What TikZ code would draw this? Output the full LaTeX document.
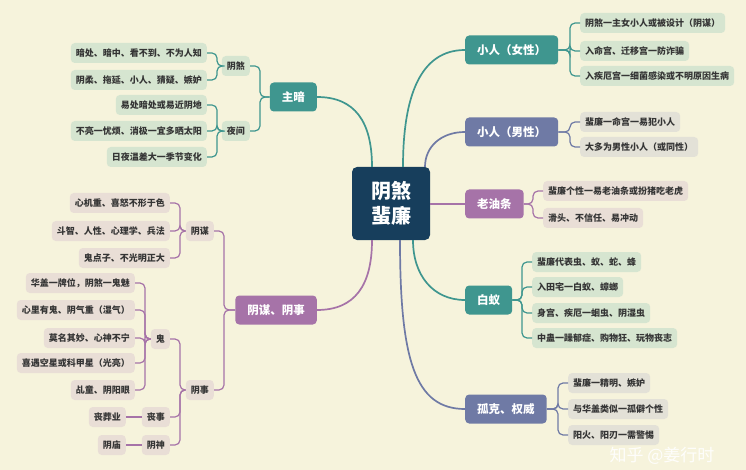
\documentclass[tikz,border=0pt]{standalone}
\usepackage{fontspec}
\setmainfont{Noto Sans CJK SC}
\usepackage{xcolor}
\usepackage{tikz}
\usetikzlibrary{positioning}
\usetikzlibrary{calc}
\definecolor{bgcol}{HTML}{F6F3DC}
\definecolor{navyc}{HTML}{173E5C}
\definecolor{tealc}{HTML}{3F968F}
\definecolor{slatec}{HTML}{6F7AA5}
\definecolor{plumc}{HTML}{A673A8}
\definecolor{leafg}{HTML}{D6E5D0}
\definecolor{leafs}{HTML}{E3E1D7}
\definecolor{leafp}{HTML}{E9DED6}
\definecolor{inkc}{HTML}{353535}
\tikzstyle{rootbox}=[rectangle,rounded corners=5pt,fill=navyc,text=white,minimum width=78pt,minimum height=73pt,align=center,font=\fontsize{20}{25}\selectfont\bfseries]
\tikzstyle{branch}=[rectangle,rounded corners=4pt,text=white,minimum height=29pt,inner xsep=12pt,font=\fontsize{11.5}{13}\selectfont\bfseries]
\tikzstyle{leaf}=[rectangle,rounded corners=4pt,minimum height=20pt,inner xsep=5pt,inner ysep=2pt,text=inkc,font=\fontsize{9}{11}\selectfont\bfseries]
\tikzstyle{link}=[draw,line width=1.7pt]
\tikzstyle{twig}=[draw,line width=1.2pt,rounded corners=5pt]
\tikzset{wmark/.style={text=white,opacity=0.9,font=\fontsize{17}{20}\selectfont}}

\begin{document}
\begin{tikzpicture}[x=1pt,y=-1pt]

  \fill[bgcol] (0,0) rectangle (746,470);
  \useasboundingbox (0,0) rectangle (746,470);

  \node[rootbox] (root) at (391,203.5) {阴煞\\蜚廉};

  % main branches
  \foreach \y/\name/\col/\label in {50/xnv/tealc/小人（女性）, 132/xnan/slatec/小人（男性）, 204/lyt/plumc/老油条, 300/by/tealc/白蚁, 409/gk/slatec/孤克、权威}
          \node[branch,fill=\col,anchor=west] (\name) at (465,\y) {\label};

  \foreach \y/\name/\col/\label in {97/za/tealc/主暗, 310/ymys/plumc/阴谋、阴事}
          \node[branch,fill=\col,anchor=east] (\name) at (317,\y) {\label};

  \path[link,tealc] ([xshift=12pt]root.north) .. controls +(0,-70) and +(-45,0) .. (xnv.west);
  \path[link,slatec] ([xshift=34pt]root.north) .. controls +(0,-20) and +(-24,0) .. (xnan.west);
  \path[link,plumc] (root.east |- lyt.west) -- (lyt.west);
  \path[link,tealc] ([xshift=22pt]root.south) .. controls +(0,35) and +(-32,0) .. (by.west);
  \path[link,slatec] ([xshift=9pt]root.south) .. controls +(0,120) and +(-50,0) .. (gk.west);
  \path[link,tealc] (za.east) .. controls +(38,0) and +(0,-45) .. ([xshift=-19pt]root.north);
  \path[link,plumc] (ymys.east) .. controls +(38,0) and +(0,45) .. ([xshift=-19pt]root.south);

  % right leaves
  \foreach \x/\y/\name/\col/\label in {580/23/l1a/leafg/阴煞一主女小人或被设计（阴谋）, 580/51/l1b/leafg/入命宫、迁移宫一防诈骗, 580/76/l1c/leafg/入疾厄宫一细菌感染或不明原因生病,
          580/122/l2a/leafs/蜚廉一命宫一易犯小人, 580/147/l2b/leafs/大多为男性小人（或同性）,
          543/191/l3a/leafp/蜚廉个性一易老油条或扮猪吃老虎, 543/218/l3b/leafp/滑头、不信任、易冲动,
          532/262/l4a/leafg/蜚廉代表虫、蚁、蛇、蜂, 532/287/l4b/leafg/入田宅一白蚁、蟑螂, 532/313/l4c/leafg/身宫、疾厄一蛔虫、阴湿虫, 532/338/l4d/leafg/中蛊一躁郁症、购物狂、玩物丧志,
          568/383/l5a/leafs/蜚廉一精明、嫉妒, 568/409/l5b/leafs/与华盖类似一孤僻个性, 568/435/l5c/leafs/阳火、阳刃一需警惕}
          \node[leaf,fill=\col,anchor=west] (\name) at (\x,\y) {\label};

  % left sub nodes and leaves
  \foreach \x/\y/\name/\col/\label in {250/66/ys/leafg/阴煞, 250/131/yj/leafg/夜间,
          207/53/r1a/leafg/暗处、暗中、看不到、不为人知, 207/80/r1b/leafg/阴柔、拖延、小人、猜疑、嫉妒,
          207/105/r2a/leafg/易处暗处或易近阴地, 207/131/r2b/leafg/不亮一忧烦、消极一宜多晒太阳, 207/157/r2c/leafg/日夜温差大一季节变化,
          214/231/ym/leafp/阴谋, 214/390/ysh/leafp/阴事,
          170/203/r3a/leafp/心机重、喜怒不形于色, 170/231/r3b/leafp/斗智、人性、心理学、兵法, 170/258/r3c/leafp/鬼点子、不光明正大,
          170/339/gui/leafp/鬼, 170/417/ss/leafp/丧事, 170/445/ysn/leafp/阴神,
          135/283/r4a/leafp/华盖一牌位，阴煞一鬼魅, 135/310/r4b/leafp/心里有鬼、阴气重（湿气）, 135/338/r4c/leafp/莫名其妙、心神不宁, 135/363/r4d/leafp/喜遇空星或科甲星（光亮）, 135/390/r4e/leafp/乩童、阴阳眼,
          126/417/r5a/leafp/丧葬业, 126/445/r6a/leafp/阴庙}
          \node[leaf,fill=\col,anchor=east] (\name) at (\x,\y) {\label};

  % brackets
  \foreach \dest/\source/\col in {l1a/xnv/tealc, l1b/xnv/tealc, l1c/xnv/tealc, l2a/xnan/slatec, l2b/xnan/slatec, l3a/lyt/plumc, l3b/lyt/plumc,
          l4a/by/tealc, l4b/by/tealc, l4c/by/tealc, l4d/by/tealc, l5a/gk/slatec, l5b/gk/slatec, l5c/gk/slatec}
         \path[twig,\col] (\dest.west) -- ++(-10,0) |- (\source.east);

  \foreach \dest/\source/\col in {ys/za/tealc, yj/za/tealc, r1a/ys/tealc, r1b/ys/tealc, r2a/yj/tealc, r2b/yj/tealc, r2c/yj/tealc,
          ym/ymys/plumc, ysh/ymys/plumc, r3a/ym/plumc, r3b/ym/plumc, r3c/ym/plumc, gui/ysh/plumc, ss/ysh/plumc, ysn/ysh/plumc,
          r4a/gui/plumc, r4b/gui/plumc, r4c/gui/plumc, r4d/gui/plumc, r4e/gui/plumc}
         \path[twig,\col] (\dest.east) -- ++(10,0) |- (\source.west);

  \path[twig,plumc] (r5a.east) -- (ss.west);
  \path[twig,plumc] (r6a.east) -- (ysn.west);

  \node[wmark] (wm) at (662,456) {知乎 @姜行时};

\end{tikzpicture}
\end{document}
